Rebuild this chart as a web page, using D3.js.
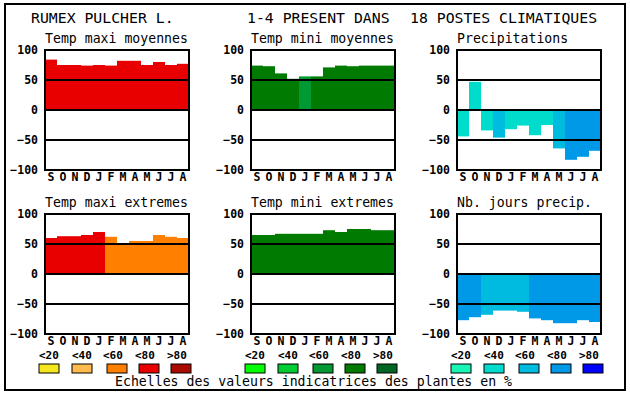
<html lang="fr">
<head>
<meta charset="utf-8">
<title>Rumex pulcher L.</title>
<style>
  body { margin: 0; background: white; }
  svg { display: block; background: white; }
  .title { font-family: "DejaVu Sans Mono", monospace; font-size: 14.8px; fill: black; }
  .sub { font-family: "DejaVu Sans Mono", monospace; font-size: 13.2px; fill: black; }
  .tick text { font-family: "DejaVu Sans Mono", monospace; font-size: 11.5px; font-weight: bold; fill: black; }
  .leg { font-family: "DejaVu Sans Mono", monospace; font-size: 11px; font-weight: bold; fill: black; }
  .grid { stroke: black; stroke-width: 2; }
  .box { fill: none; stroke: black; stroke-width: 2; }
</style>
</head>
<body>
<script src="https://cdnjs.cloudflare.com/ajax/libs/d3/7.8.5/d3.min.js"></script>
<script>
// months (sept -> aout)
var months = ["S", "O", "N", "D", "J", "F", "M", "A", "M", "J", "J", "A"];
var ticks = [-100, -50, 0, 50, 100];
var legendLabels = ["<20", "<40", "<60", "<80", ">80"];

// colour scales of the indicator values
var redScale = ["#f5e61e", "#ffbb4e", "#ff8000", "#e80000", "#aa0a00"];
var greenScale = ["#00ff00", "#00cc33", "#009933", "#007a00", "#006622"];
var blueScale = ["#19f5b4", "#00dccc", "#00bbe0", "#0099e8", "#0000ff"];

// values, class = index in the colour scale
var tmaxMoy = [84, 75, 75, 74, 75, 74, 82, 82, 75, 80, 75, 77];
var tmaxMoyCls = [3, 3, 3, 3, 3, 3, 3, 3, 3, 3, 3, 3];
var tminMoy = [74, 73, 61, 52, 56, 56, 71, 74, 73, 74, 74, 74];
var tminMoyCls = [3, 3, 3, 3, 2, 3, 3, 3, 3, 3, 3, 3];
var precip = [-44, 47, -34, -46, -32, -26, -42, -25, -64, -83, -78, -68];
var precipCls = [1, 1, 1, 2, 1, 1, 1, 1, 2, 3, 3, 3];
var tmaxExt = [60, 63, 63, 65, 70, 62, 49, 55, 55, 65, 62, 60];
var tmaxExtCls = [3, 3, 3, 3, 3, 2, 2, 2, 2, 2, 2, 2];
var tminExt = [65, 65, 67, 67, 67, 67, 73, 70, 75, 75, 73, 73];
var tminExtCls = [3, 3, 3, 3, 3, 3, 3, 3, 3, 3, 3, 3];
var nbJours = [-77, -72, -68, -61, -61, -63, -74, -77, -82, -82, -77, -80];
var nbJoursCls = [3, 3, 2, 2, 2, 2, 3, 3, 3, 3, 3, 3];

var panels = [
  { name: "Temp maxi moyennes", values: tmaxMoy, cls: tmaxMoyCls, pal: redScale, col: 0, row: 0 },
  { name: "Temp mini moyennes", values: tminMoy, cls: tminMoyCls, pal: greenScale, col: 1, row: 0 },
  { name: "Precipitations", values: precip, cls: precipCls, pal: blueScale, col: 2, row: 0 },
  { name: "Temp maxi extremes", values: tmaxExt, cls: tmaxExtCls, pal: redScale, col: 0, row: 1 },
  { name: "Temp mini extremes", values: tminExt, cls: tminExtCls, pal: greenScale, col: 1, row: 1 },
  { name: "Nb. jours precip.", values: nbJours, cls: nbJoursCls, pal: blueScale, col: 2, row: 1 }
];
var palettes = [redScale, greenScale, blueScale];

var colLeft = [45, 251, 457];
var rowTop = [50, 214];
var pw = 144, ph = 120;

var svg = d3.select("body").append("svg")
  .attr("width", 630)
  .attr("height", 394);

svg.append("rect").attr("class", "box")
  .attr("x", 5).attr("y", 4).attr("width", 620).attr("height", 386);

svg.append("text").attr("class", "title").attr("x", 31).attr("y", 23).text("RUMEX PULCHER L.");
svg.append("text").attr("class", "title").attr("x", 247).attr("y", 23).text("1-4 PRESENT DANS");
svg.append("text").attr("class", "title").attr("x", 410).attr("y", 23).text("18 POSTES CLIMATIQUES");

panels.forEach(function(p) {
  var left = colLeft[p.col], top = rowTop[p.row];

  var x = d3.scaleBand().domain(d3.range(12)).range([left, left + pw]).padding(0);
  var y = d3.scaleLinear().domain([-100, 100]).range([top + ph, top]);

  var g = svg.append("g");

  g.append("text").attr("class", "sub")
    .attr("x", left).attr("y", top - 7)
    .text(p.name);

  g.selectAll("rect.bar")
    .data(p.values)
    .enter()
    .append("rect")
    .attr("class", "bar")
    .attr("x", function(d, i) { return x(i); })
    .attr("width", x.bandwidth())
    .attr("y", function(d) { return Math.min(y(d), y(0)); })
    .attr("height", function(d) { return Math.abs(y(d) - y(0)); })
    .attr("fill", function(d, i) { return p.pal[p.cls[i]]; });

  g.selectAll("line.grid")
    .data([50, 0, -50])
    .enter()
    .append("line")
    .attr("class", "grid")
    .attr("x1", left).attr("x2", left + pw)
    .attr("y1", function(d) { return y(d); })
    .attr("y2", function(d) { return y(d); });

  g.append("rect").attr("class", "box")
    .attr("x", left).attr("y", top).attr("width", pw).attr("height", ph);

  var yAxis = d3.axisLeft(y).tickValues(ticks).tickSize(0).tickPadding(7);
  g.append("g").attr("transform", "translate(" + left + ",0)").call(yAxis)
    .call(function(s) { s.select(".domain").remove(); });

  var xAxis = d3.axisBottom(x).tickSize(0)
    .tickFormat(function(i) { return months[i]; });
  g.append("g").attr("transform", "translate(0," + (top + ph) + ")").call(xAxis)
    .call(function(s) {
      s.select(".domain").remove();
      s.selectAll("text").attr("dy", null).attr("y", 11);
    });
});

// legend
var boxOff = [-6, 27, 62, 94, 126];
var txtOff = [-6, 27, 58, 90, 122];
palettes.forEach(function(pal, c) {
  var left = colLeft[c];
  var lg = svg.append("g");
  lg.selectAll("text")
    .data(legendLabels)
    .enter()
    .append("text")
    .attr("class", "leg")
    .attr("x", function(d, i) { return left + txtOff[i]; })
    .attr("y", 359)
    .text(function(d) { return d; });
  lg.selectAll("rect")
    .data(pal)
    .enter()
    .append("rect")
    .attr("x", function(d, i) { return left + boxOff[i]; })
    .attr("y", 364)
    .attr("width", 20)
    .attr("height", 9)
    .attr("fill", function(d) { return d; })
    .attr("stroke", "black")
    .attr("stroke-width", 1);
});

svg.append("text").attr("class", "sub")
  .attr("x", 115).attr("y", 386)
  .text("Echelles des valeurs indicatrices des plantes en %");
</script>
</body>
</html>
